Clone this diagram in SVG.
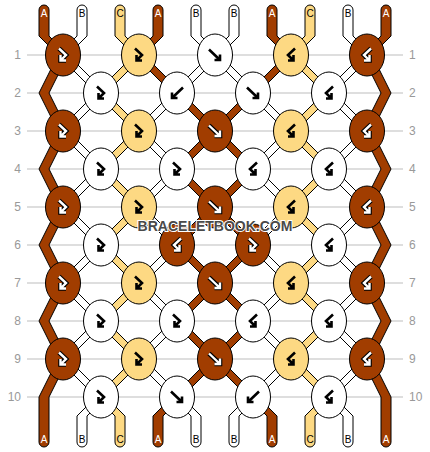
<svg xmlns="http://www.w3.org/2000/svg" xmlns:xlink="http://www.w3.org/1999/xlink" width="430" height="452" viewBox="0 0 430 452">
<style>
.grid{stroke:#bdbdbd;stroke-width:1}
.rn{font-family:"Liberation Sans",Arial,sans-serif;font-size:12px;fill:#999}
.s{stroke:#000;stroke-width:1;stroke-linejoin:miter}
.br{fill:#A13D00}
.ye{fill:#FDD983}
.wh{fill:#fff}
.k{stroke:#000;stroke-width:1}
.ak{fill:none;stroke:#000;stroke-width:2.6}
.ao{fill:none;stroke:#000;stroke-width:4.6}
.aw{fill:none;stroke:#fff;stroke-width:2.4}
.lb{font-family:"Liberation Sans",Arial,sans-serif;font-size:10px;text-anchor:middle;fill:#000}
.lw{fill:#fff}
.wm{font-family:"Liberation Sans",Arial,sans-serif;font-size:14px;font-weight:bold;text-anchor:middle;fill:#4a4a4a;stroke:#fff;stroke-width:2;paint-order:stroke}
</style>
<defs>
<path id="af" d="M-6,-5.5 L5,5 M5,-0.5 L5,5 L-0.5,5"/>
<path id="ab" d="M6,-5.5 L-5,5 M-5,-0.5 L-5,5 L0.5,5"/>
<path id="afb" d="M-4,-6.5 L3,0 L-2.5,5.5 M-2.5,0 L-2.5,5.5 L3,5.5"/>
<path id="abf" d="M4,-6.5 L-3,0 L2.5,5.5 M2.5,0 L2.5,5.5 L-3,5.5"/>
</defs>
<g id="grid">
<line class="grid" x1="27" y1="55" x2="403" y2="55"/>
<line class="grid" x1="27" y1="93" x2="403" y2="93"/>
<line class="grid" x1="27" y1="131" x2="403" y2="131"/>
<line class="grid" x1="27" y1="169" x2="403" y2="169"/>
<line class="grid" x1="27" y1="207" x2="403" y2="207"/>
<line class="grid" x1="27" y1="245" x2="403" y2="245"/>
<line class="grid" x1="27" y1="283" x2="403" y2="283"/>
<line class="grid" x1="27" y1="321" x2="403" y2="321"/>
<line class="grid" x1="27" y1="359" x2="403" y2="359"/>
<line class="grid" x1="27" y1="397" x2="403" y2="397"/>
<g class="rn" text-anchor="end">
<text x="21" y="59">1</text><text x="21" y="97">2</text><text x="21" y="135">3</text><text x="21" y="173">4</text><text x="21" y="211">5</text><text x="21" y="249">6</text><text x="21" y="287">7</text><text x="21" y="325">8</text><text x="21" y="363">9</text><text x="21" y="401">10</text>
</g>
<g class="rn" text-anchor="start">
<text x="409" y="59">1</text><text x="409" y="97">2</text><text x="409" y="135">3</text><text x="409" y="173">4</text><text x="409" y="211">5</text><text x="409" y="249">6</text><text x="409" y="287">7</text><text x="409" y="325">8</text><text x="409" y="363">9</text><text x="409" y="401">10</text>
</g>
</g>
<g id="connectors">
<path class="s br" d="M39,10 A5,5 0 0 1 49,10 L49,36 68,55 49,93 68,131 49,169 68,207 49,245 68,283 49,321 68,359 49,397 49,442 A5,5 0 0 1 39,442 L39,397 58,359 39,321 58,283 39,245 58,207 39,169 58,131 39,93 58,55 39,36 Z"/>
<path class="s br" d="M381,10 A5,5 0 0 1 391,10 L391,36 372,55 391,93 372,131 391,169 372,207 391,245 372,283 391,321 372,359 391,397 391,442 A5,5 0 0 1 381,442 L381,397 362,359 381,321 362,283 381,245 362,207 381,169 362,131 381,93 362,55 381,36 Z"/>
<path class="s ye" d="M115,10 A5,5 0 0 1 125,10 L125,36 144,55 106,93 144,131 106,169 144,207 106,245 144,283 106,321 144,359 106,397 125,416 125,442 A5,5 0 0 1 115,442 L115,416 96,397 134,359 96,321 134,283 96,245 134,207 96,169 134,131 96,93 134,55 115,36 Z"/>
<path class="s ye" d="M305,10 A5,5 0 0 1 315,10 L315,36 296,55 334,93 296,131 334,169 296,207 334,245 296,283 334,321 296,359 334,397 315,416 315,442 A5,5 0 0 1 305,442 L305,416 324,397 286,359 324,321 286,283 324,245 286,207 324,169 286,131 324,93 286,55 305,36 Z"/>
<path class="s wh" d="M77,10 A5,5 0 0 1 87,10 L87,36 68,55 106,93 68,131 106,169 68,207 106,245 68,283 106,321 68,359 106,397 87,416 87,442 A5,5 0 0 1 77,442 L77,416 96,397 58,359 96,321 58,283 96,245 58,207 96,169 58,131 96,93 58,55 77,36 Z"/>
<path class="s wh" d="M343,10 A5,5 0 0 1 353,10 L353,36 372,55 334,93 372,131 334,169 372,207 334,245 372,283 334,321 372,359 334,397 353,416 353,442 A5,5 0 0 1 343,442 L343,416 324,397 362,359 324,321 362,283 324,245 362,207 324,169 362,131 324,93 362,55 343,36 Z"/>
<path class="s wh" d="M191,10 A5,5 0 0 1 201,10 L201,36 220,55 182,93 144,131 182,169 144,207 182,245 144,283 182,321 144,359 182,397 201,416 201,442 A5,5 0 0 1 191,442 L191,416 172,397 134,359 172,321 134,283 172,245 134,207 172,169 134,131 172,93 210,55 191,36 Z"/>
<path class="s wh" d="M229,10 A5,5 0 0 1 239,10 L239,36 220,55 258,93 296,131 258,169 296,207 258,245 296,283 258,321 296,359 258,397 239,416 239,442 A5,5 0 0 1 229,442 L229,416 248,397 286,359 248,321 286,283 248,245 286,207 248,169 286,131 248,93 210,55 229,36 Z"/>
<path class="s br" d="M153,10 A5,5 0 0 1 163,10 L163,36 144,55 182,93 220,131 182,169 220,207 182,245 220,283 182,321 220,359 182,397 163,416 163,442 A5,5 0 0 1 153,442 L153,416 172,397 210,359 172,321 210,283 172,245 210,207 172,169 210,131 172,93 134,55 153,36 Z"/>
<path class="s br" d="M267,10 A5,5 0 0 1 277,10 L277,36 296,55 258,93 220,131 258,169 220,207 258,245 220,283 258,321 220,359 258,397 277,416 277,442 A5,5 0 0 1 267,442 L267,416 248,397 210,359 248,321 210,283 248,245 210,207 248,169 210,131 248,93 286,55 267,36 Z"/>
</g>
<g id="string-labels">
<text class="lb lw" x="44" y="16.5">A</text><text class="lb" x="82" y="16.5">B</text><text class="lb" x="120" y="16.5">C</text><text class="lb lw" x="158" y="16.5">A</text><text class="lb" x="196" y="16.5">B</text><text class="lb" x="234" y="16.5">B</text><text class="lb lw" x="272" y="16.5">A</text><text class="lb" x="310" y="16.5">C</text><text class="lb" x="348" y="16.5">B</text><text class="lb lw" x="386" y="16.5">A</text>
<text class="lb lw" x="44" y="443">A</text><text class="lb" x="82" y="443">B</text><text class="lb" x="120" y="443">C</text><text class="lb lw" x="158" y="443">A</text><text class="lb" x="196" y="443">B</text><text class="lb" x="234" y="443">B</text><text class="lb lw" x="272" y="443">A</text><text class="lb" x="310" y="443">C</text><text class="lb" x="348" y="443">B</text><text class="lb lw" x="386" y="443">A</text>
</g>
<g id="knots">
<g id="k1-1"><ellipse class="k br" cx="63" cy="55" rx="17.5" ry="21"/><use href="#afb" x="63" y="55" class="ao"/><use href="#afb" x="63" y="55" class="aw"/></g>
<g id="k1-2"><ellipse class="k ye" cx="139" cy="55" rx="17.5" ry="21"/><use href="#afb" x="139" y="55" class="ak"/></g>
<g id="k1-3"><ellipse class="k wh" cx="215" cy="55" rx="17.5" ry="21"/><use href="#af" x="215" y="55" class="ak"/></g>
<g id="k1-4"><ellipse class="k ye" cx="291" cy="55" rx="17.5" ry="21"/><use href="#abf" x="291" y="55" class="ak"/></g>
<g id="k1-5"><ellipse class="k br" cx="367" cy="55" rx="17.5" ry="21"/><use href="#abf" x="367" y="55" class="ao"/><use href="#abf" x="367" y="55" class="aw"/></g>

<g id="k2-1"><ellipse class="k wh" cx="101" cy="93" rx="17.5" ry="21"/><use href="#afb" x="101" y="93" class="ak"/></g>
<g id="k2-2"><ellipse class="k wh" cx="177" cy="93" rx="17.5" ry="21"/><use href="#ab" x="177" y="93" class="ak"/></g>
<g id="k2-3"><ellipse class="k wh" cx="253" cy="93" rx="17.5" ry="21"/><use href="#af" x="253" y="93" class="ak"/></g>
<g id="k2-4"><ellipse class="k wh" cx="329" cy="93" rx="17.5" ry="21"/><use href="#abf" x="329" y="93" class="ak"/></g>

<g id="k3-1"><ellipse class="k br" cx="63" cy="131" rx="17.5" ry="21"/><use href="#afb" x="63" y="131" class="ao"/><use href="#afb" x="63" y="131" class="aw"/></g>
<g id="k3-2"><ellipse class="k ye" cx="139" cy="131" rx="17.5" ry="21"/><use href="#afb" x="139" y="131" class="ak"/></g>
<g id="k3-3"><ellipse class="k br" cx="215" cy="131" rx="17.5" ry="21"/><use href="#af" x="215" y="131" class="ao"/><use href="#af" x="215" y="131" class="aw"/></g>
<g id="k3-4"><ellipse class="k ye" cx="291" cy="131" rx="17.5" ry="21"/><use href="#abf" x="291" y="131" class="ak"/></g>
<g id="k3-5"><ellipse class="k br" cx="367" cy="131" rx="17.5" ry="21"/><use href="#abf" x="367" y="131" class="ao"/><use href="#abf" x="367" y="131" class="aw"/></g>

<g id="k4-1"><ellipse class="k wh" cx="101" cy="169" rx="17.5" ry="21"/><use href="#afb" x="101" y="169" class="ak"/></g>
<g id="k4-2"><ellipse class="k wh" cx="177" cy="169" rx="17.5" ry="21"/><use href="#afb" x="177" y="169" class="ak"/></g>
<g id="k4-3"><ellipse class="k wh" cx="253" cy="169" rx="17.5" ry="21"/><use href="#abf" x="253" y="169" class="ak"/></g>
<g id="k4-4"><ellipse class="k wh" cx="329" cy="169" rx="17.5" ry="21"/><use href="#abf" x="329" y="169" class="ak"/></g>

<g id="k5-1"><ellipse class="k br" cx="63" cy="207" rx="17.5" ry="21"/><use href="#afb" x="63" y="207" class="ao"/><use href="#afb" x="63" y="207" class="aw"/></g>
<g id="k5-2"><ellipse class="k ye" cx="139" cy="207" rx="17.5" ry="21"/><use href="#afb" x="139" y="207" class="ak"/></g>
<g id="k5-3"><ellipse class="k br" cx="215" cy="207" rx="17.5" ry="21"/><use href="#af" x="215" y="207" class="ao"/><use href="#af" x="215" y="207" class="aw"/></g>
<g id="k5-4"><ellipse class="k ye" cx="291" cy="207" rx="17.5" ry="21"/><use href="#abf" x="291" y="207" class="ak"/></g>
<g id="k5-5"><ellipse class="k br" cx="367" cy="207" rx="17.5" ry="21"/><use href="#abf" x="367" y="207" class="ao"/><use href="#abf" x="367" y="207" class="aw"/></g>

<g id="k6-1"><ellipse class="k wh" cx="101" cy="245" rx="17.5" ry="21"/><use href="#afb" x="101" y="245" class="ak"/></g>
<g id="k6-2"><ellipse class="k br" cx="177" cy="245" rx="17.5" ry="21"/><use href="#abf" x="177" y="245" class="ao"/><use href="#abf" x="177" y="245" class="aw"/></g>
<g id="k6-3"><ellipse class="k br" cx="253" cy="245" rx="17.5" ry="21"/><use href="#afb" x="253" y="245" class="ao"/><use href="#afb" x="253" y="245" class="aw"/></g>
<g id="k6-4"><ellipse class="k wh" cx="329" cy="245" rx="17.5" ry="21"/><use href="#abf" x="329" y="245" class="ak"/></g>

<g id="k7-1"><ellipse class="k br" cx="63" cy="283" rx="17.5" ry="21"/><use href="#afb" x="63" y="283" class="ao"/><use href="#afb" x="63" y="283" class="aw"/></g>
<g id="k7-2"><ellipse class="k ye" cx="139" cy="283" rx="17.5" ry="21"/><use href="#afb" x="139" y="283" class="ak"/></g>
<g id="k7-3"><ellipse class="k br" cx="215" cy="283" rx="17.5" ry="21"/><use href="#af" x="215" y="283" class="ao"/><use href="#af" x="215" y="283" class="aw"/></g>
<g id="k7-4"><ellipse class="k ye" cx="291" cy="283" rx="17.5" ry="21"/><use href="#abf" x="291" y="283" class="ak"/></g>
<g id="k7-5"><ellipse class="k br" cx="367" cy="283" rx="17.5" ry="21"/><use href="#abf" x="367" y="283" class="ao"/><use href="#abf" x="367" y="283" class="aw"/></g>

<g id="k8-1"><ellipse class="k wh" cx="101" cy="321" rx="17.5" ry="21"/><use href="#afb" x="101" y="321" class="ak"/></g>
<g id="k8-2"><ellipse class="k wh" cx="177" cy="321" rx="17.5" ry="21"/><use href="#afb" x="177" y="321" class="ak"/></g>
<g id="k8-3"><ellipse class="k wh" cx="253" cy="321" rx="17.5" ry="21"/><use href="#abf" x="253" y="321" class="ak"/></g>
<g id="k8-4"><ellipse class="k wh" cx="329" cy="321" rx="17.5" ry="21"/><use href="#abf" x="329" y="321" class="ak"/></g>

<g id="k9-1"><ellipse class="k br" cx="63" cy="359" rx="17.5" ry="21"/><use href="#afb" x="63" y="359" class="ao"/><use href="#afb" x="63" y="359" class="aw"/></g>
<g id="k9-2"><ellipse class="k ye" cx="139" cy="359" rx="17.5" ry="21"/><use href="#afb" x="139" y="359" class="ak"/></g>
<g id="k9-3"><ellipse class="k br" cx="215" cy="359" rx="17.5" ry="21"/><use href="#af" x="215" y="359" class="ao"/><use href="#af" x="215" y="359" class="aw"/></g>
<g id="k9-4"><ellipse class="k ye" cx="291" cy="359" rx="17.5" ry="21"/><use href="#abf" x="291" y="359" class="ak"/></g>
<g id="k9-5"><ellipse class="k br" cx="367" cy="359" rx="17.5" ry="21"/><use href="#abf" x="367" y="359" class="ao"/><use href="#abf" x="367" y="359" class="aw"/></g>

<g id="k10-1"><ellipse class="k wh" cx="101" cy="397" rx="17.5" ry="21"/><use href="#afb" x="101" y="397" class="ak"/></g>
<g id="k10-2"><ellipse class="k wh" cx="177" cy="397" rx="17.5" ry="21"/><use href="#af" x="177" y="397" class="ak"/></g>
<g id="k10-3"><ellipse class="k wh" cx="253" cy="397" rx="17.5" ry="21"/><use href="#ab" x="253" y="397" class="ak"/></g>
<g id="k10-4"><ellipse class="k wh" cx="329" cy="397" rx="17.5" ry="21"/><use href="#abf" x="329" y="397" class="ak"/></g>
</g>
<text class="wm" x="215" y="231">BRACELETBOOK.COM</text>
</svg>
